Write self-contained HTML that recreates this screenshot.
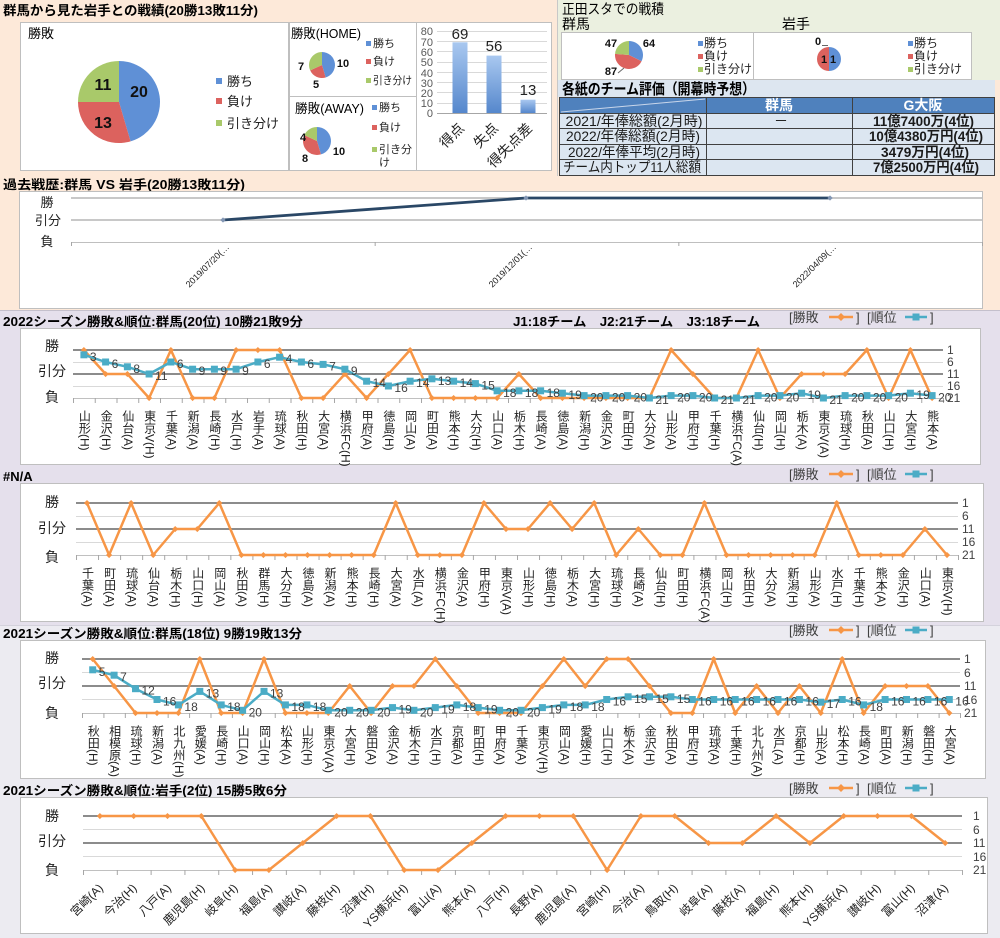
<!DOCTYPE html>
<html><head><meta charset="utf-8"><title>戦績</title>
<style>
body{margin:0;background:#fff;}
#w{position:relative;width:1000px;height:938px;overflow:hidden;font-family:"Liberation Sans","Noto Sans CJK JP",sans-serif;}
#w svg{position:absolute;left:0;top:0;}
svg text{font-family:"Liberation Sans","Noto Sans CJK JP",sans-serif;}
.vrow{position:absolute;display:flex;}
.vrow>div{flex:1 1 0;display:flex;justify-content:center;min-width:0;}
.vrow span{writing-mode:vertical-rl;text-orientation:mixed;font-size:12px;line-height:13px;white-space:nowrap;color:#222;}
.rrow{position:absolute;display:flex;height:1px;}
.rrow>div{flex:1 1 0;position:relative;min-width:0;}
.rrow span{position:absolute;top:0;transform-origin:100% 0;transform:rotate(-45deg);white-space:nowrap;color:#222;}
.rp span{right:calc(50% - 1px);font-size:9px;line-height:11px;}
.rd span{right:calc(50% + 4px);font-size:12px;line-height:14px;}
</style></head>
<body><div id="w">
<svg width="1000" height="938" viewBox="0 0 1000 938" xmlns="http://www.w3.org/2000/svg">
<defs>
<linearGradient id="gb" x1="0" y1="0" x2="0" y2="1"><stop offset="0" stop-color="#a9c8f0"/><stop offset="1" stop-color="#5587cc"/></linearGradient>
<marker id="md" viewBox="-4 -4 8 8" markerWidth="7" markerHeight="7" markerUnits="userSpaceOnUse" refX="0" refY="0"><path d="M0,-3.5 3.5,0 0,3.5 -3.5,0z" fill="#f79646"/></marker>
<marker id="ms" viewBox="-4 -4 8 8" markerWidth="8" markerHeight="8" markerUnits="userSpaceOnUse" refX="0" refY="0"><rect x="-3.5" y="-3.5" width="7" height="7" fill="#4bacc6"/></marker>
<marker id="mp" viewBox="-4 -4 8 8" markerWidth="6" markerHeight="6" markerUnits="userSpaceOnUse" refX="0" refY="0"><path d="M0,-3.5 3.5,0 0,3.5 -3.5,0z" fill="#8296b4"/></marker>
<pattern id="tP" x="71" y="0" width="303.67" height="10" patternUnits="userSpaceOnUse"><rect width="1" height="10" fill="#a6a6a6"/></pattern>
<pattern id="tA" x="73" y="0" width="21.75" height="10" patternUnits="userSpaceOnUse"><rect width="1" height="10" fill="#a6a6a6"/></pattern>
<pattern id="tB" x="76" y="0" width="22.05" height="10" patternUnits="userSpaceOnUse"><rect width="1" height="10" fill="#a6a6a6"/></pattern>
<pattern id="tC" x="82" y="0" width="21.415" height="10" patternUnits="userSpaceOnUse"><rect width="1" height="10" fill="#a6a6a6"/></pattern>
<pattern id="tD" x="83" y="0" width="33.81" height="10" patternUnits="userSpaceOnUse"><rect width="1" height="10" fill="#a6a6a6"/></pattern>
</defs>

<!-- backgrounds -->
<rect x="0" y="0" width="1000" height="938" fill="#ecebf1"/>
<rect x="0" y="0" width="1000" height="310" fill="#fde9d9"/>
<rect x="558" y="0" width="442" height="80" fill="#ebf0e0"/>
<rect x="558" y="80" width="437" height="17" fill="#dde6f0"/>
<rect x="0" y="310" width="1000" height="315" fill="#e5e0ec"/>
<line x1="0" y1="310.5" x2="1000" y2="310.5" stroke="#c4c0cc"/>
<line x1="0" y1="625.5" x2="1000" y2="625.5" stroke="#d4d2dc"/>
<line x1="557.5" y1="0" x2="557.5" y2="176" stroke="#c8c8c8"/>

<!-- ===== top left ===== -->
<text x="3" y="15" font-size="13" font-weight="bold" textLength="255" lengthAdjust="spacingAndGlyphs">群馬から見た岩手との戦績(20勝13敗11分)</text>
<rect x="20.5" y="22.5" width="268" height="148" fill="#fff" stroke="#bfbfbf"/>
<rect x="289.5" y="22.5" width="127" height="74" fill="#fff" stroke="#bfbfbf"/>
<rect x="289.5" y="96.5" width="127" height="74" fill="#fff" stroke="#bfbfbf"/>
<rect x="416.5" y="22.5" width="135" height="148" fill="#fff" stroke="#bfbfbf"/>

<text x="28" y="38" font-size="13">勝敗</text>
<path d="M119,102 L119,61 A41,41 0 0 1 130.55,141.34 Z" fill="#5f90d6"/>
<path d="M119,102 L130.55,141.34 A41,41 0 0 1 78,102 Z" fill="#dc625e"/>
<path d="M119,102 L78,102 A41,41 0 0 1 119,61 Z" fill="#a9c96a"/>
<g font-size="16" font-weight="bold" text-anchor="middle" fill="#111">
<text x="139" y="97">20</text><text x="103" y="90">11</text><text x="103" y="128">13</text>
</g>
<rect x="216" y="78" width="6" height="6" fill="#5f90d6"/>
<rect x="216" y="98" width="6" height="6" fill="#dc625e"/>
<rect x="216" y="120" width="6" height="6" fill="#a9c96a"/>
<g font-size="13" fill="#222">
<text x="227" y="86">勝ち</text><text x="227" y="106">負け</text><text x="227" y="128">引き分け</text>
</g>

<text x="291" y="38" font-size="13" textLength="70" lengthAdjust="spacingAndGlyphs">勝敗(HOME)</text>
<path d="M322,65 L322,52 A13,13 0 0 1 325.66,77.47 Z" fill="#5f90d6"/>
<path d="M322,65 L325.66,77.47 A13,13 0 0 1 310.18,70.40 Z" fill="#dc625e"/>
<path d="M322,65 L310.18,70.40 A13,13 0 0 1 322,52 Z" fill="#a9c96a"/>
<g font-size="11" font-weight="bold" text-anchor="middle" fill="#111">
<text x="343" y="67">10</text><text x="301" y="70">7</text><text x="316" y="88">5</text>
</g>
<rect x="366" y="41" width="5" height="5" fill="#5f90d6"/>
<rect x="366" y="59" width="5" height="5" fill="#dc625e"/>
<rect x="366" y="78" width="5" height="5" fill="#a9c96a"/>
<g font-size="11" fill="#222">
<text x="373" y="47">勝ち</text><text x="373" y="65">負け</text><text x="373" y="84" textLength="39" lengthAdjust="spacingAndGlyphs">引き分け</text>
</g>

<text x="295" y="113" font-size="13" textLength="69" lengthAdjust="spacingAndGlyphs">勝敗(AWAY)</text>
<path d="M317,141 L317,127 A14,14 0 0 1 320.94,154.43 Z" fill="#5f90d6"/>
<path d="M317,141 L320.94,154.43 A14,14 0 0 1 304.27,135.18 Z" fill="#dc625e"/>
<path d="M317,141 L304.27,135.18 A14,14 0 0 1 317,127 Z" fill="#a9c96a"/>
<g font-size="11" font-weight="bold" text-anchor="middle" fill="#111">
<text x="303" y="141">4</text><text x="305" y="162">8</text><text x="339" y="155">10</text>
</g>
<rect x="372" y="105" width="5" height="5" fill="#5f90d6"/>
<rect x="372" y="125" width="5" height="5" fill="#dc625e"/>
<rect x="372" y="147" width="5" height="5" fill="#a9c96a"/>
<g font-size="11" fill="#222">
<text x="379" y="111">勝ち</text><text x="379" y="131">負け</text><text x="379" y="153">引き分</text><text x="379" y="166">け</text>
</g>

<!-- bar chart -->
<g stroke="#d9d9d9" stroke-width="1">
<line x1="437" y1="31.5" x2="547" y2="31.5"/><line x1="437" y1="41.5" x2="547" y2="41.5"/>
<line x1="437" y1="51.5" x2="547" y2="51.5"/><line x1="437" y1="62.5" x2="547" y2="62.5"/>
<line x1="437" y1="72.5" x2="547" y2="72.5"/><line x1="437" y1="82.5" x2="547" y2="82.5"/>
<line x1="437" y1="92.5" x2="547" y2="92.5"/><line x1="437" y1="103.5" x2="547" y2="103.5"/>
</g>
<line x1="437" y1="113.5" x2="547" y2="113.5" stroke="#a6a6a6"/>
<g font-size="11" fill="#595959" text-anchor="end">
<text x="433" y="35">80</text><text x="433" y="46">70</text><text x="433" y="56">60</text>
<text x="433" y="66">50</text><text x="433" y="77">40</text><text x="433" y="87">30</text>
<text x="433" y="97">20</text><text x="433" y="107">10</text><text x="433" y="117">0</text>
</g>
<rect x="452.5" y="42.3" width="15" height="70.7" fill="url(#gb)"/>
<rect x="486.5" y="55.6" width="15" height="57.4" fill="url(#gb)"/>
<rect x="520.5" y="99.7" width="15" height="13.3" fill="url(#gb)"/>
<g font-size="15" text-anchor="middle" fill="#222">
<text x="460" y="39">69</text><text x="494" y="51">56</text><text x="528" y="95">13</text>
</g>
<g font-size="14" text-anchor="end" fill="#222">
<text transform="translate(465,129) rotate(-45)">得点</text>
<text transform="translate(499,129) rotate(-45)">失点</text>
<text transform="translate(533,129) rotate(-45)">得失点差</text>
</g>

<!-- ===== top right ===== -->
<text x="562" y="14" font-size="14" textLength="102" lengthAdjust="spacingAndGlyphs">正田スタでの戦積</text>
<text x="562" y="29" font-size="14">群馬</text>
<text x="782" y="29" font-size="14">岩手</text>
<rect x="561.5" y="32.5" width="192" height="47" fill="#fff" stroke="#bfbfbf"/>
<rect x="753.5" y="32.5" width="218" height="47" fill="#fff" stroke="#bfbfbf"/>
<path d="M629,55 L629,41 A14,14 0 0 1 641.54,61.22 Z" fill="#5f90d6"/>
<path d="M629,55 L641.54,61.22 A14,14 0 0 1 615.04,53.89 Z" fill="#dc625e"/>
<path d="M629,55 L615.04,53.89 A14,14 0 0 1 629,41 Z" fill="#a9c96a"/>
<path d="M829,59 L829,47 A12,12 0 0 1 829,71 Z" fill="#5f90d6"/>
<path d="M829,59 L829,71 A12,12 0 0 1 829,47 Z" fill="#dc625e"/>
<line x1="618" y1="73" x2="624" y2="68" stroke="#666"/>
<line x1="822" y1="45.5" x2="828" y2="45.5" stroke="#666"/>
<g font-size="11" font-weight="bold" text-anchor="middle" fill="#111">
<text x="611" y="47">47</text><text x="649" y="47">64</text><text x="611" y="75">87</text>
<text x="818" y="45">0</text><text x="824" y="63">1</text><text x="833" y="63">1</text>
</g>
<rect x="698" y="41" width="5" height="5" fill="#5f90d6"/>
<rect x="698" y="54" width="5" height="5" fill="#dc625e"/>
<rect x="698" y="67" width="5" height="5" fill="#a9c96a"/>
<rect x="908" y="41" width="5" height="5" fill="#5f90d6"/>
<rect x="908" y="54" width="5" height="5" fill="#dc625e"/>
<rect x="908" y="67" width="5" height="5" fill="#a9c96a"/>
<g font-size="12" fill="#222">
<text x="704" y="47">勝ち</text><text x="704" y="60">負け</text><text x="704" y="73">引き分け</text>
<text x="914" y="47">勝ち</text><text x="914" y="60">負け</text><text x="914" y="73">引き分け</text>
</g>

<text x="562" y="94" font-size="15" font-weight="bold" textLength="193" lengthAdjust="spacingAndGlyphs">各紙のチーム評価（開幕時予想）</text>
<!-- table -->
<rect x="559" y="97" width="436" height="16" fill="#4f81bd"/>
<rect x="559" y="113" width="436" height="62" fill="#dce6f1"/>
<line x1="561" y1="112" x2="705" y2="99" stroke="#c9d6ea"/>
<g stroke="#404040" stroke-width="1">
<line x1="559" y1="97.5" x2="995" y2="97.5"/><line x1="559" y1="113.5" x2="995" y2="113.5"/>
<line x1="559" y1="128.5" x2="995" y2="128.5"/><line x1="559" y1="144.5" x2="995" y2="144.5"/>
<line x1="559" y1="159.5" x2="995" y2="159.5"/><line x1="559" y1="175.5" x2="995" y2="175.5"/>
<line x1="559.5" y1="97" x2="559.5" y2="176"/><line x1="706.5" y1="97" x2="706.5" y2="176"/>
<line x1="852.5" y1="97" x2="852.5" y2="176"/><line x1="994.5" y1="97" x2="994.5" y2="176"/>
</g>
<g font-size="14" font-weight="bold" fill="#fff" text-anchor="middle">
<text x="779" y="110">群馬</text><text x="923" y="110">G大阪</text>
</g>
<g font-size="14" fill="#1a1a1a" text-anchor="middle">
<text x="634" y="126" textLength="137" lengthAdjust="spacingAndGlyphs">2021/年俸総額(2月時)</text>
<text x="633" y="141" textLength="134" lengthAdjust="spacingAndGlyphs">2022/年俸総額(2月時)</text>
<text x="634" y="157" textLength="132" lengthAdjust="spacingAndGlyphs">2022/年俸平均(2月時)</text>
<text x="632" y="172" textLength="138" lengthAdjust="spacingAndGlyphs">チーム内トップ11人総額</text>
<text x="781" y="126">－</text>
</g>
<g font-size="14" font-weight="bold" fill="#1a1a1a" text-anchor="middle">
<text x="923.5" y="126" textLength="101" lengthAdjust="spacingAndGlyphs">11億7400万(4位)</text>
<text x="926" y="141" textLength="114" lengthAdjust="spacingAndGlyphs">10億4380万円(4位)</text>
<text x="925" y="157" textLength="88" lengthAdjust="spacingAndGlyphs">3479万円(4位)</text>
<text x="926" y="172" textLength="106" lengthAdjust="spacingAndGlyphs">7億2500万円(4位)</text>
</g>

<!-- ===== past record ===== -->
<text x="3" y="189" font-size="12.5" font-weight="bold" textLength="242" lengthAdjust="spacingAndGlyphs">過去戦歴:群馬 VS 岩手(20勝13敗11分)</text>
<rect x="19.5" y="191.5" width="963" height="117" fill="#fff" stroke="#bfbfbf"/>
<g font-size="13" text-anchor="middle" fill="#222">
<text x="47" y="207">勝</text><text x="48" y="225">引分</text><text x="47" y="246">負</text>
</g>
<line x1="71" y1="198" x2="982" y2="198" stroke="#c8c8c8" stroke-width="2"/>
<line x1="71" y1="220" x2="982" y2="220" stroke="#c8c8c8" stroke-width="2"/>
<line x1="71" y1="242.5" x2="982" y2="242.5" stroke="#bfbfbf"/>
<rect x="71" y="242" width="912" height="4" fill="url(#tP)"/>
<polyline points="223,220 526,198 830,198" fill="none" stroke="#2a4766" stroke-width="2.8" stroke-linejoin="round" marker-start="url(#mp)" marker-mid="url(#mp)" marker-end="url(#mp)"/>

<!-- ===== 2022 ===== -->
<text x="3" y="326" font-size="12.5" font-weight="bold" textLength="300" lengthAdjust="spacingAndGlyphs">2022シーズン勝敗&amp;順位:群馬(20位) 10勝21敗9分</text>
<text x="513" y="326" font-size="12.5" font-weight="bold" textLength="247" lengthAdjust="spacingAndGlyphs">J1:18チーム　J2:21チーム　J3:18チーム</text>
<g font-size="13" fill="#404040">
<text x="789" y="322">[勝敗</text><text x="856" y="322">]</text><text x="867" y="322">[順位</text><text x="930" y="322">]</text>
</g>
<line x1="829" y1="317" x2="853" y2="317" stroke="#f79646" stroke-width="2.5"/>
<path d="M841,313 l4,4 -4,4 -4,-4z" fill="#f79646"/>
<line x1="905" y1="317" x2="927" y2="317" stroke="#4bacc6" stroke-width="2.5"/>
<rect x="912.5" y="313.5" width="7" height="7" fill="#4bacc6"/>

<rect x="20.5" y="328.5" width="960" height="136" fill="#fff" stroke="#bfbfbf"/>
<g font-size="14" text-anchor="middle" fill="#222">
<text x="52" y="351">勝</text><text x="52" y="376">引分</text><text x="52" y="402">負</text>
</g>
<line x1="73" y1="362.5" x2="943" y2="362.5" stroke="#d9d9d9"/>
<line x1="73" y1="386.5" x2="943" y2="386.5" stroke="#d9d9d9"/>
<line x1="73" y1="398.5" x2="943" y2="398.5" stroke="#c0c0c0"/>
<line x1="73" y1="350" x2="943" y2="350" stroke="#8c8c8c" stroke-width="2"/>
<line x1="73" y1="374" x2="943" y2="374" stroke="#8c8c8c" stroke-width="2"/>
<rect x="73" y="398" width="871" height="5" fill="url(#tA)"/>
<g font-size="12" fill="#404040">
<text x="947" y="354">1</text><text x="947" y="366">6</text><text x="947" y="378">11</text><text x="947" y="390">16</text><text x="947" y="402">21</text>
</g>
<polyline points="83.9,350 105.6,374 127.4,374 149.1,398 170.9,350 192.6,398 214.4,398 236.1,350 257.9,350 279.6,350 301.4,398 323.1,398 344.9,374 366.6,398 388.4,374 410.1,350 431.9,398 453.6,398 475.4,398 497.1,398 518.9,374 540.6,398 562.4,398 584.1,398 605.9,398 627.6,398 649.4,398 671.1,350 692.9,374 714.6,398 736.4,398 758.1,350 779.9,398 801.6,374 823.4,374 845.1,374 866.9,350 888.6,398 910.4,350 932.1,398" fill="none" stroke="#f79646" stroke-width="2.5" stroke-linejoin="round" marker-start="url(#md)" marker-mid="url(#md)" marker-end="url(#md)"/>
<polyline points="83.9,354.8 105.6,362 127.4,366.8 149.1,374 170.9,362 192.6,369.2 214.4,369.2 236.1,369.2 257.9,362 279.6,357.2 301.4,362 323.1,364.4 344.9,369.2 366.6,381.2 388.4,386 410.1,381.2 431.9,378.8 453.6,381.2 475.4,383.6 497.1,390.8 518.9,390.8 540.6,390.8 562.4,393.2 584.1,395.6 605.9,395.6 627.6,395.6 649.4,398 671.1,395.6 692.9,395.6 714.6,398 736.4,398 758.1,395.6 779.9,395.6 801.6,393.2 823.4,398 845.1,395.6 866.9,395.6 888.6,395.6 910.4,393.2 932.1,395.6" fill="none" stroke="#4bacc6" stroke-width="2.5" stroke-linejoin="round" marker-start="url(#ms)" marker-mid="url(#ms)" marker-end="url(#ms)"/>
<g font-size="12" fill="#404040">
<text x="89.9" y="360.8">3</text><text x="111.6" y="368">6</text><text x="133.4" y="372.8">8</text><text x="155.1" y="380">11</text>
<text x="176.9" y="368">6</text><text x="198.6" y="375.2">9</text><text x="220.4" y="375.2">9</text><text x="242.1" y="375.2">9</text>
<text x="263.9" y="368">6</text><text x="285.6" y="363.2">4</text><text x="307.4" y="368">6</text><text x="329.1" y="370.4">7</text>
<text x="350.9" y="375.2">9</text><text x="372.6" y="387.2">14</text><text x="394.4" y="392">16</text><text x="416.1" y="387.2">14</text>
<text x="437.9" y="384.8">13</text><text x="459.6" y="387.2">14</text><text x="481.4" y="389.6">15</text><text x="503.1" y="396.8">18</text>
<text x="524.9" y="396.8">18</text><text x="546.6" y="396.8">18</text><text x="568.4" y="399.2">19</text><text x="590.1" y="401.6">20</text>
<text x="611.9" y="401.6">20</text><text x="633.6" y="401.6">20</text><text x="655.4" y="404">21</text><text x="677.1" y="401.6">20</text>
<text x="698.9" y="401.6">20</text><text x="720.6" y="404">21</text><text x="742.4" y="404">21</text><text x="764.1" y="401.6">20</text>
<text x="785.9" y="401.6">20</text><text x="807.6" y="399.2">19</text><text x="829.4" y="404">21</text><text x="851.1" y="401.6">20</text>
<text x="872.9" y="401.6">20</text><text x="894.6" y="401.6">20</text><text x="916.4" y="399.2">19</text><text x="938.1" y="401.6">20</text>
</g>

<!-- ===== #N/A ===== -->
<text x="3" y="481" font-size="13" font-weight="bold">#N/A</text>
<g font-size="13" fill="#404040">
<text x="789" y="479">[勝敗</text><text x="856" y="479">]</text><text x="867" y="479">[順位</text><text x="930" y="479">]</text>
</g>
<line x1="829" y1="474" x2="853" y2="474" stroke="#f79646" stroke-width="2.5"/>
<path d="M841,470 l4,4 -4,4 -4,-4z" fill="#f79646"/>
<line x1="905" y1="474" x2="927" y2="474" stroke="#4bacc6" stroke-width="2.5"/>
<rect x="912.5" y="470.5" width="7" height="7" fill="#4bacc6"/>
<rect x="20.5" y="483.5" width="963" height="138" fill="#fff" stroke="#bfbfbf"/>
<g font-size="14" text-anchor="middle" fill="#222">
<text x="52" y="507">勝</text><text x="52" y="533">引分</text><text x="52" y="562">負</text>
</g>
<line x1="76" y1="516.5" x2="958" y2="516.5" stroke="#d9d9d9"/>
<line x1="76" y1="542.5" x2="958" y2="542.5" stroke="#d9d9d9"/>
<line x1="76" y1="555.5" x2="958" y2="555.5" stroke="#c0c0c0"/>
<line x1="76" y1="503" x2="958" y2="503" stroke="#8c8c8c" stroke-width="2"/>
<line x1="76" y1="529" x2="958" y2="529" stroke="#8c8c8c" stroke-width="2"/>
<rect x="76" y="555" width="883" height="5" fill="url(#tB)"/>
<g font-size="12" fill="#404040">
<text x="962" y="507">1</text><text x="962" y="520">6</text><text x="962" y="533">11</text><text x="962" y="546">16</text><text x="962" y="559">21</text>
</g>
<polyline points="87,503 109.1,555 131.1,503 153.2,555 175.2,529 197.3,529 219.3,503 241.4,555 263.4,555 285.5,555 307.5,555 329.6,555 351.6,555 373.7,555 395.7,503 417.8,555 439.8,555 461.9,555 483.9,503 506,529 528,529 550.1,503 572.1,529 594.2,503 616.2,555 638.3,529 660.3,555 682.4,555 704.4,503 726.5,555 748.5,555 770.6,555 792.6,555 814.7,555 836.7,503 858.8,555 880.8,555 902.9,555 924.9,529 947,555" fill="none" stroke="#f79646" stroke-width="2.5" stroke-linejoin="round" marker-start="url(#md)" marker-mid="url(#md)" marker-end="url(#md)"/>

<!-- ===== 2021 Gunma ===== -->
<text x="3" y="638" font-size="12.5" font-weight="bold" textLength="299" lengthAdjust="spacingAndGlyphs">2021シーズン勝敗&amp;順位:群馬(18位) 9勝19敗13分</text>
<g font-size="13" fill="#404040">
<text x="789" y="635">[勝敗</text><text x="856" y="635">]</text><text x="867" y="635">[順位</text><text x="930" y="635">]</text>
</g>
<line x1="829" y1="630" x2="853" y2="630" stroke="#f79646" stroke-width="2.5"/>
<path d="M841,626 l4,4 -4,4 -4,-4z" fill="#f79646"/>
<line x1="905" y1="630" x2="927" y2="630" stroke="#4bacc6" stroke-width="2.5"/>
<rect x="912.5" y="626.5" width="7" height="7" fill="#4bacc6"/>
<rect x="20.5" y="640.5" width="965" height="138" fill="#fff" stroke="#bfbfbf"/>
<g font-size="14" text-anchor="middle" fill="#222">
<text x="52" y="663">勝</text><text x="52" y="688">引分</text><text x="52" y="718">負</text>
</g>
<line x1="82" y1="672.5" x2="960" y2="672.5" stroke="#d9d9d9"/>
<line x1="82" y1="699.5" x2="960" y2="699.5" stroke="#d9d9d9"/>
<line x1="82" y1="713.5" x2="960" y2="713.5" stroke="#c0c0c0"/>
<line x1="82" y1="659" x2="960" y2="659" stroke="#8c8c8c" stroke-width="2"/>
<line x1="82" y1="686" x2="960" y2="686" stroke="#8c8c8c" stroke-width="2"/>
<rect x="82" y="713" width="879" height="5" fill="url(#tC)"/>
<g font-size="12" fill="#404040">
<text x="964" y="663">1</text><text x="964" y="677">6</text><text x="964" y="690">11</text><text x="964" y="704">16</text><text x="964" y="717">21</text>
</g>
<polyline points="92.7,659 114.1,686 135.5,713 157,713 178.4,713 199.8,659 221.2,713 242.6,713 264,659 285.4,713 306.9,713 328.3,713 349.7,686 371.1,713 392.5,686 413.9,686 435.3,659 456.8,686 478.2,713 499.6,713 521,713 542.4,686 563.8,659 585.2,686 606.7,659 628.1,659 649.5,686 670.9,713 692.3,713 713.7,659 735.2,713 756.6,686 778,713 799.4,686 820.8,713 842.2,659 863.6,713 885.1,686 906.5,686 927.9,686 949.3,713" fill="none" stroke="#f79646" stroke-width="2.5" stroke-linejoin="round" marker-start="url(#md)" marker-mid="url(#md)" marker-end="url(#md)"/>
<polyline points="92.7,669.8 114.1,675.2 135.5,688.7 157,699.5 178.4,704.9 199.8,691.4 221.2,704.9 242.6,710.3 264,691.4 285.4,704.9 306.9,704.9 328.3,710.3 349.7,710.3 371.1,710.3 392.5,707.6 413.9,710.3 435.3,707.6 456.8,704.9 478.2,707.6 499.6,710.3 521,710.3 542.4,707.6 563.8,704.9 585.2,704.9 606.7,699.5 628.1,696.8 649.5,696.8 670.9,696.8 692.3,699.5 713.7,699.5 735.2,699.5 756.6,699.5 778,699.5 799.4,699.5 820.8,702.2 842.2,699.5 863.6,704.9 885.1,699.5 906.5,699.5 927.9,699.5 949.3,699.5" fill="none" stroke="#4bacc6" stroke-width="2.5" stroke-linejoin="round" marker-start="url(#ms)" marker-mid="url(#ms)" marker-end="url(#ms)"/>
<g font-size="12" fill="#404040">
<text x="98.7" y="675.8">5</text><text x="120.1" y="681.2">7</text><text x="141.5" y="694.7">12</text><text x="163" y="705.5">16</text>
<text x="184.4" y="710.9">18</text><text x="205.8" y="697.4">13</text><text x="227.2" y="710.9">18</text><text x="248.6" y="716.3">20</text>
<text x="270" y="697.4">13</text><text x="291.4" y="710.9">18</text><text x="312.9" y="710.9">18</text><text x="334.3" y="716.3">20</text>
<text x="355.7" y="716.3">20</text><text x="377.1" y="716.3">20</text><text x="398.5" y="713.6">19</text><text x="419.9" y="716.3">20</text>
<text x="441.3" y="713.6">19</text><text x="462.8" y="710.9">18</text><text x="484.2" y="713.6">19</text><text x="505.6" y="716.3">20</text>
<text x="527" y="716.3">20</text><text x="548.4" y="713.6">19</text><text x="569.8" y="710.9">18</text><text x="591.2" y="710.9">18</text>
<text x="612.7" y="705.5">16</text><text x="634.1" y="702.8">15</text><text x="655.5" y="702.8">15</text><text x="676.9" y="702.8">15</text>
<text x="698.3" y="705.5">16</text><text x="719.7" y="705.5">16</text><text x="741.2" y="705.5">16</text><text x="762.6" y="705.5">16</text>
<text x="784" y="705.5">16</text><text x="805.4" y="705.5">16</text><text x="826.8" y="708.2">17</text><text x="848.2" y="705.5">16</text>
<text x="869.6" y="710.9">18</text><text x="891.1" y="705.5">16</text><text x="912.5" y="705.5">16</text><text x="933.9" y="705.5">16</text>
<text x="955.3" y="705.5">16</text>
</g>

<!-- ===== 2021 Iwate ===== -->
<text x="3" y="795" font-size="12.5" font-weight="bold" textLength="284" lengthAdjust="spacingAndGlyphs">2021シーズン勝敗&amp;順位:岩手(2位) 15勝5敗6分</text>
<g font-size="13" fill="#404040">
<text x="789" y="793">[勝敗</text><text x="856" y="793">]</text><text x="867" y="793">[順位</text><text x="930" y="793">]</text>
</g>
<line x1="829" y1="788" x2="853" y2="788" stroke="#f79646" stroke-width="2.5"/>
<path d="M841,784 l4,4 -4,4 -4,-4z" fill="#f79646"/>
<line x1="905" y1="788" x2="927" y2="788" stroke="#4bacc6" stroke-width="2.5"/>
<rect x="912.5" y="784.5" width="7" height="7" fill="#4bacc6"/>
<rect x="20.5" y="797.5" width="967" height="136" fill="#fff" stroke="#bfbfbf"/>
<g font-size="14" text-anchor="middle" fill="#222">
<text x="52" y="821">勝</text><text x="52" y="846">引分</text><text x="52" y="875">負</text>
</g>
<line x1="83" y1="829.5" x2="962" y2="829.5" stroke="#d9d9d9"/>
<line x1="83" y1="856.5" x2="962" y2="856.5" stroke="#d9d9d9"/>
<line x1="83" y1="870.5" x2="962" y2="870.5" stroke="#c0c0c0"/>
<line x1="83" y1="816" x2="962" y2="816" stroke="#8c8c8c" stroke-width="2"/>
<line x1="83" y1="843" x2="962" y2="843" stroke="#8c8c8c" stroke-width="2"/>
<rect x="83" y="870" width="880" height="5" fill="url(#tD)"/>
<g font-size="12" fill="#404040">
<text x="973" y="820">1</text><text x="973" y="834">6</text><text x="973" y="847">11</text><text x="973" y="861">16</text><text x="973" y="874">21</text>
</g>
<polyline points="99.9,816 133.7,816 167.5,816 201.3,816 235.1,870 268.9,870 302.8,843 336.6,816 370.4,816 404.2,870 438,870 471.8,843 505.6,816 539.4,816 573.3,816 607.1,870 640.9,816 674.7,816 708.5,843 742.3,843 776.1,816 809.9,843 843.7,816 877.5,816 911.4,816 945.2,843" fill="none" stroke="#f79646" stroke-width="2.5" stroke-linejoin="round" marker-start="url(#md)" marker-mid="url(#md)" marker-end="url(#md)"/>
</svg>

<!-- past record x labels -->
<div class="rrow rp" style="left:71px;top:242px;width:911px">
<div><span>2019/07/20(…</span></div><div><span>2019/12/01(…</span></div><div><span>2022/04/09(…</span></div>
</div>

<!-- 2022 labels -->
<div class="vrow" style="left:73px;top:410px;width:870px">
<div><span>山形(H)</span></div><div><span>金沢(H)</span></div><div><span>仙台(A)</span></div><div><span>東京V(H)</span></div><div><span>千葉(A)</span></div>
<div><span>新潟(A)</span></div><div><span>長崎(H)</span></div><div><span>水戸(H)</span></div><div><span>岩手(A)</span></div><div><span>琉球(A)</span></div>
<div><span>秋田(H)</span></div><div><span>大宮(A)</span></div><div><span>横浜FC(H)</span></div><div><span>甲府(A)</span></div><div><span>徳島(H)</span></div>
<div><span>岡山(A)</span></div><div><span>町田(A)</span></div><div><span>熊本(H)</span></div><div><span>大分(H)</span></div><div><span>山口(A)</span></div>
<div><span>栃木(H)</span></div><div><span>長崎(A)</span></div><div><span>徳島(A)</span></div><div><span>新潟(H)</span></div><div><span>金沢(A)</span></div>
<div><span>町田(H)</span></div><div><span>大分(A)</span></div><div><span>山形(A)</span></div><div><span>甲府(H)</span></div><div><span>千葉(H)</span></div>
<div><span>横浜FC(A)</span></div><div><span>仙台(H)</span></div><div><span>岡山(H)</span></div><div><span>栃木(A)</span></div><div><span>東京V(A)</span></div>
<div><span>琉球(H)</span></div><div><span>秋田(A)</span></div><div><span>山口(H)</span></div><div><span>大宮(H)</span></div><div><span>熊本(A)</span></div>
</div>

<!-- #N/A labels -->
<div class="vrow" style="left:76px;top:567px;width:882px">
<div><span>千葉(A)</span></div><div><span>町田(A)</span></div><div><span>琉球(A)</span></div><div><span>仙台(A)</span></div><div><span>栃木(H)</span></div>
<div><span>山口(H)</span></div><div><span>岡山(A)</span></div><div><span>秋田(A)</span></div><div><span>群馬(H)</span></div><div><span>大分(H)</span></div>
<div><span>徳島(A)</span></div><div><span>新潟(A)</span></div><div><span>熊本(H)</span></div><div><span>長崎(H)</span></div><div><span>大宮(A)</span></div>
<div><span>水戸(A)</span></div><div><span>横浜FC(H)</span></div><div><span>金沢(A)</span></div><div><span>甲府(H)</span></div><div><span>東京V(A)</span></div>
<div><span>山形(H)</span></div><div><span>徳島(H)</span></div><div><span>栃木(A)</span></div><div><span>大宮(H)</span></div><div><span>琉球(H)</span></div>
<div><span>長崎(A)</span></div><div><span>仙台(H)</span></div><div><span>町田(H)</span></div><div><span>横浜FC(A)</span></div><div><span>岡山(H)</span></div>
<div><span>秋田(H)</span></div><div><span>大分(A)</span></div><div><span>新潟(H)</span></div><div><span>山形(A)</span></div><div><span>水戸(H)</span></div>
<div><span>千葉(H)</span></div><div><span>熊本(A)</span></div><div><span>金沢(H)</span></div><div><span>山口(A)</span></div><div><span>東京V(H)</span></div>
</div>

<!-- 2021 Gunma labels -->
<div class="vrow" style="left:82px;top:725px;width:878px">
<div><span>秋田(H)</span></div><div><span>相模原(A)</span></div><div><span>琉球(H)</span></div><div><span>新潟(A)</span></div><div><span>北九州(H)</span></div>
<div><span>愛媛(A)</span></div><div><span>長崎(H)</span></div><div><span>山口(A)</span></div><div><span>岡山(H)</span></div><div><span>松本(A)</span></div>
<div><span>山形(H)</span></div><div><span>東京V(A)</span></div><div><span>大宮(H)</span></div><div><span>磐田(A)</span></div><div><span>金沢(A)</span></div>
<div><span>栃木(H)</span></div><div><span>水戸(H)</span></div><div><span>京都(A)</span></div><div><span>町田(H)</span></div><div><span>甲府(A)</span></div>
<div><span>千葉(A)</span></div><div><span>東京V(H)</span></div><div><span>岡山(A)</span></div><div><span>愛媛(H)</span></div><div><span>山口(H)</span></div>
<div><span>栃木(A)</span></div><div><span>金沢(H)</span></div><div><span>秋田(A)</span></div><div><span>甲府(H)</span></div><div><span>琉球(A)</span></div>
<div><span>千葉(H)</span></div><div><span>北九州(A)</span></div><div><span>水戸(A)</span></div><div><span>京都(H)</span></div><div><span>山形(A)</span></div>
<div><span>松本(H)</span></div><div><span>長崎(A)</span></div><div><span>町田(A)</span></div><div><span>新潟(H)</span></div><div><span>磐田(H)</span></div>
<div><span>大宮(A)</span></div>
</div>

<!-- 2021 Iwate labels -->
<div class="rrow rd" style="left:83px;top:881px;width:879px">
<div><span>宮崎(A)</span></div><div><span>今治(H)</span></div><div><span>八戸(A)</span></div><div><span>鹿児島(H)</span></div><div><span>岐阜(H)</span></div>
<div><span>福島(A)</span></div><div><span>讃岐(A)</span></div><div><span>藤枝(H)</span></div><div><span>沼津(H)</span></div><div><span>YS横浜(H)</span></div>
<div><span>富山(A)</span></div><div><span>熊本(A)</span></div><div><span>八戸(H)</span></div><div><span>長野(A)</span></div><div><span>鹿児島(A)</span></div>
<div><span>宮崎(H)</span></div><div><span>今治(A)</span></div><div><span>鳥取(H)</span></div><div><span>岐阜(A)</span></div><div><span>藤枝(A)</span></div>
<div><span>福島(H)</span></div><div><span>熊本(H)</span></div><div><span>YS横浜(A)</span></div><div><span>讃岐(H)</span></div><div><span>富山(H)</span></div>
<div><span>沼津(A)</span></div>
</div>

</div></body></html>
